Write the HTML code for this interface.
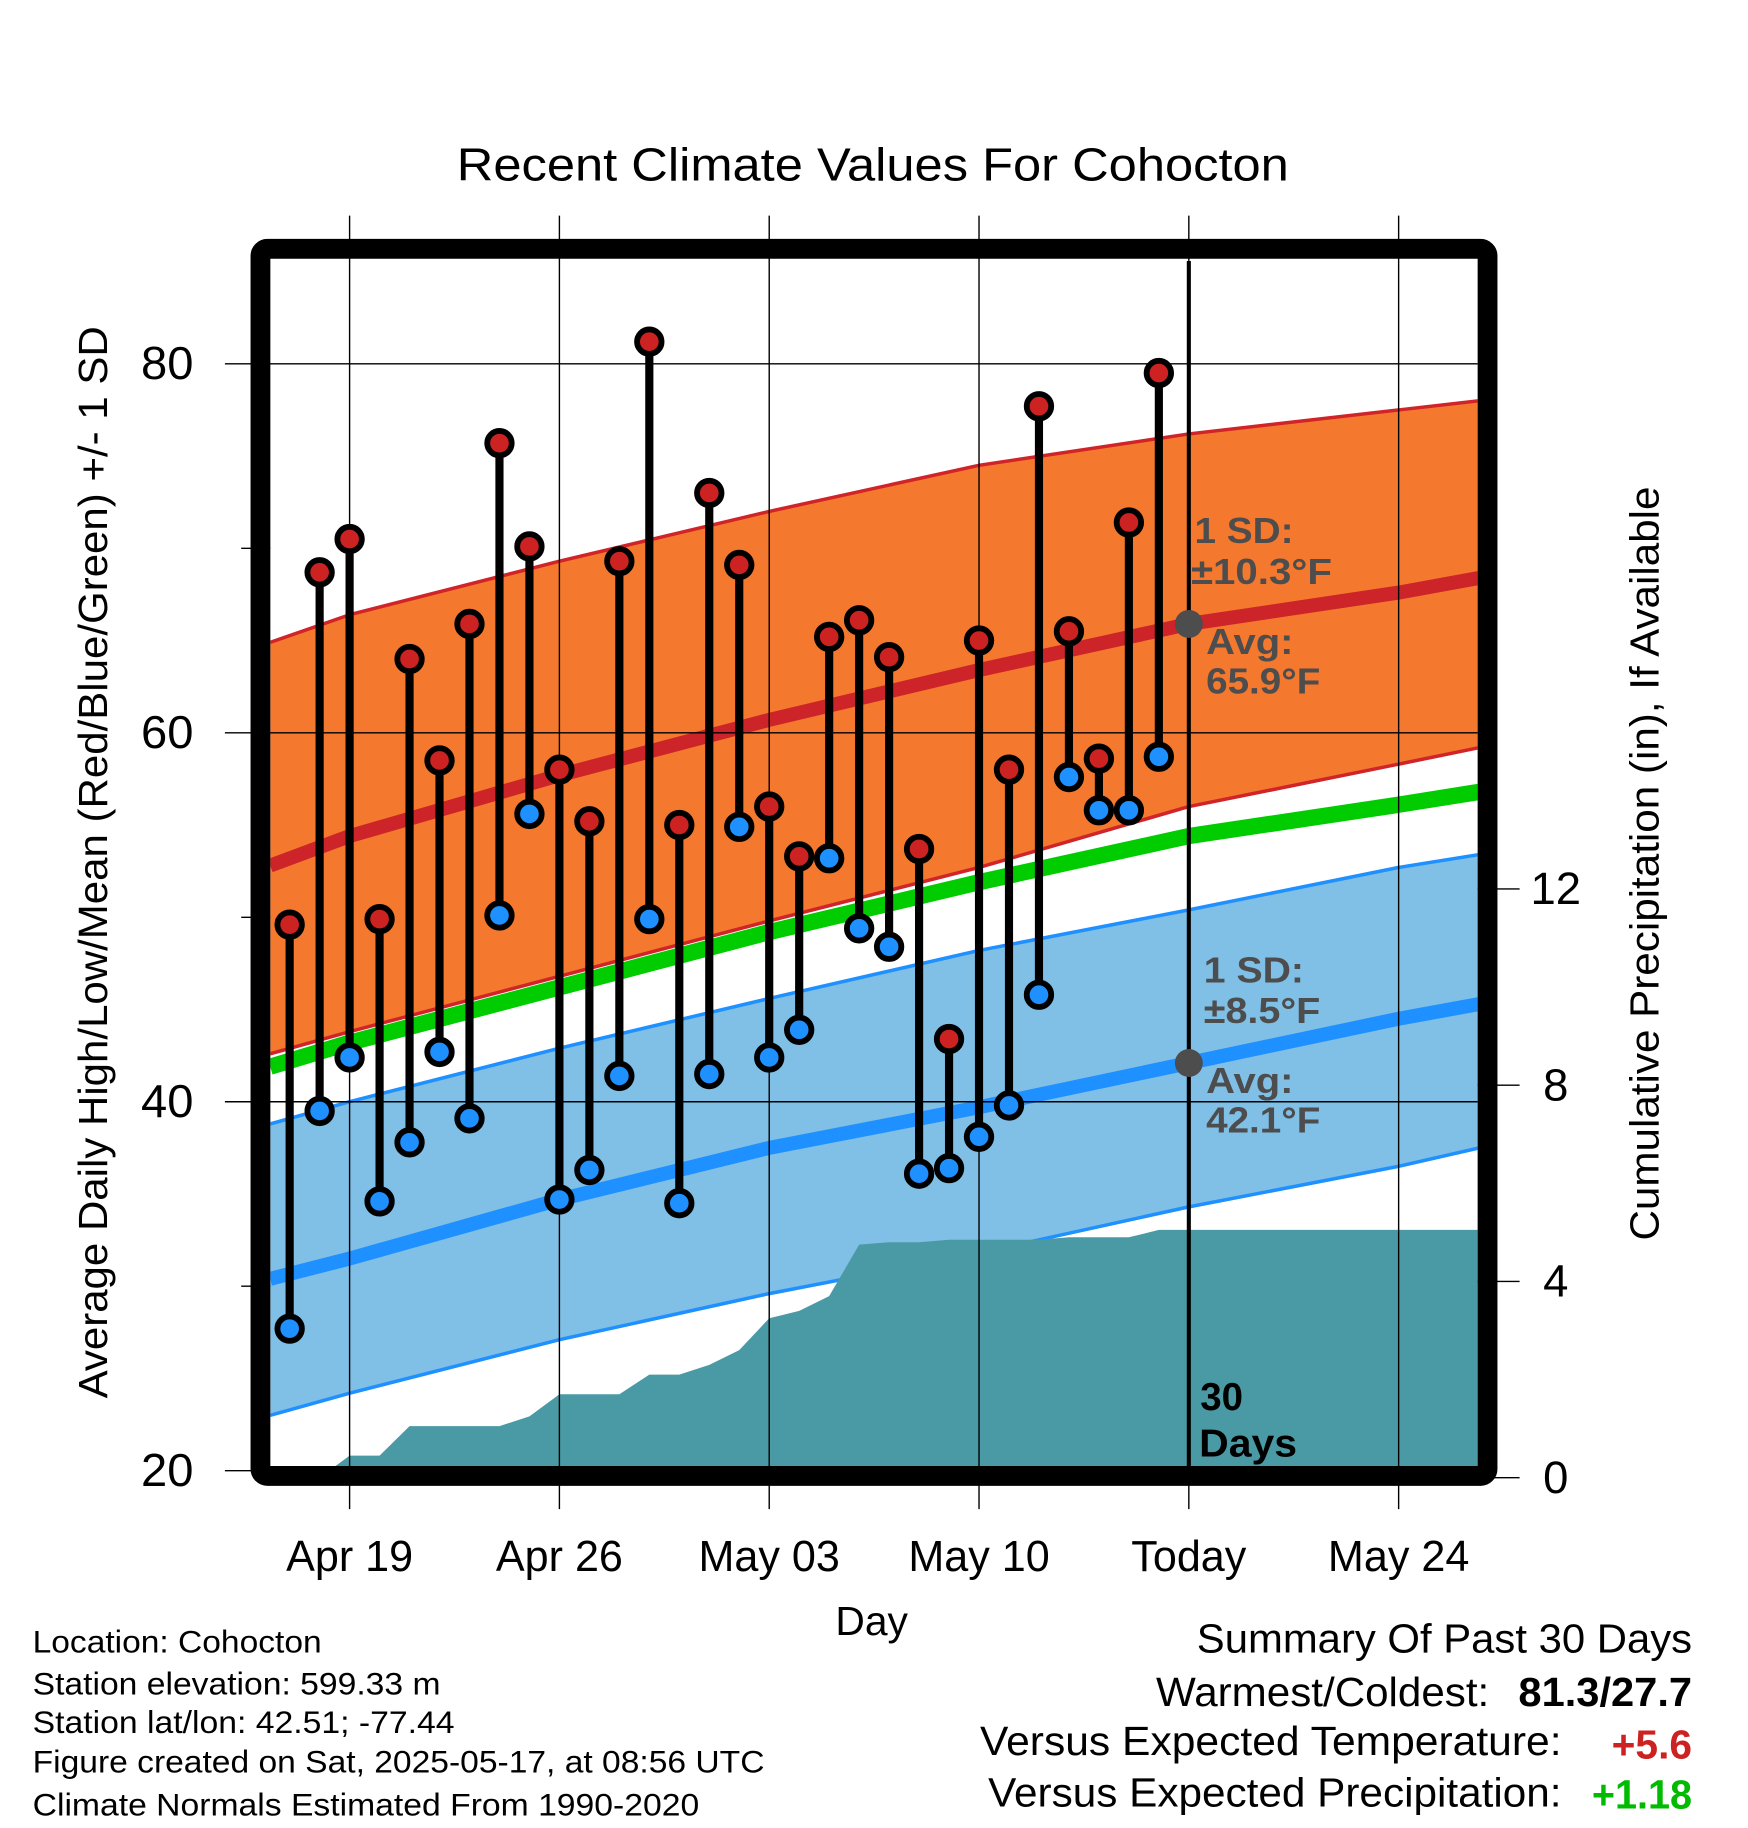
<!DOCTYPE html>
<html><head><meta charset="utf-8"><style>
html,body{margin:0;padding:0;background:#fff;}
svg{display:block;font-family:"Liberation Sans",Arial,sans-serif;}
</style></head><body>
<svg id="chart" width="1748" height="1828" viewBox="0 0 1500 1568.6" preserveAspectRatio="none" xmlns="http://www.w3.org/2000/svg">
<g id="bands"></g>
<g id="precip"></g>
<g id="grid"></g>
<g id="marks"></g>
<g id="labels"></g>
</svg>
<script>
// ---- data ----
const dayLabels = ["Apr 19","Apr 26","May 03","May 10","Today","May 24"];
const dayTicks = [0,7,14,21,28,35];
const highs = [49.6,68.7,70.5,49.9,64.0,58.5,65.9,75.7,70.1,58.0,55.2,69.3,81.2,55.0,73.0,69.1,56.0,53.3,65.2,66.1,64.1,53.7,43.4,65.0,58.0,77.7,65.5,58.6,71.4,79.5];
const lows  = [27.7,39.5,42.4,34.6,37.8,42.7,39.1,50.1,55.6,34.7,36.3,41.4,49.9,34.5,41.5,54.9,42.4,43.9,53.2,49.4,48.4,36.1,36.4,38.1,39.8,45.8,57.6,55.8,55.8,58.7];
const precipCum = [0,0,0.45,0.45,1.05,1.05,1.05,1.05,1.25,1.7,1.7,1.7,2.1,2.1,2.3,2.6,3.25,3.4,3.7,4.75,4.8,4.8,4.85,4.85,4.85,4.85,4.9,4.9,4.9,5.05];
const normDays = [-2.65,0,7,14,21,28,35,37.7];
const normHigh = [52.8,54.4,57.7,60.7,63.4,65.9,67.6,68.4];
const normHighUp = [64.9,66.4,69.3,72.0,74.5,76.2,77.5,78.0];
const normHighLo = [42.6,43.8,46.8,49.8,52.7,56.0,58.3,59.2];
const normMean = [41.9,43.2,46.2,49.2,51.9,54.4,56.1,56.8];
const normLow = [30.4,31.5,34.7,37.5,39.7,42.1,44.5,45.3];
const normLowUp = [38.8,40.0,42.9,45.6,48.2,50.4,52.7,53.4];
const normLowLo = [23.0,24.2,27.1,29.6,31.8,34.3,36.5,37.5];
const yTicks = [20,40,60,80];
const yMinor = [30,50,70];
const pTicks = [0,4,8,12];
const firstDay = -2;

// ---- axes ----
const X = d => 300 + d*25.72;
const Y = v => 1262 - (v-20)*15.83;
const P = p => 1268 - p*42.1;
const NS="http://www.w3.org/2000/svg";
function mk(tag, attrs, parent, text){const e=document.createElementNS(NS,tag);for(const k in attrs)e.setAttribute(k,attrs[k]);if(text!==undefined)e.textContent=text;parent.appendChild(e);return e;}
const bands=document.getElementById('bands'),precip=document.getElementById('precip'),grid=document.getElementById('grid'),marks=document.getElementById('marks'),labels=document.getElementById('labels');
const svg=document.getElementById('chart');
const defs=mk('defs',{},svg);const cp=mk('clipPath',{id:'pc'},defs);mk('rect',{x:232,y:224,width:1036,height:1035},cp);
bands.setAttribute('clip-path','url(#pc)');precip.setAttribute('clip-path','url(#pc)');
function pts(arr){return normDays.map((d,i)=>X(d)+','+Y(arr[i])).join(' ');}
function band(up,lo,fill,name){const p=normDays.map((d,i)=>X(d)+','+Y(up[i])).concat(normDays.slice().reverse().map((d,j)=>{const i=normDays.length-1-j;return X(d)+','+Y(lo[i]);}));
const e=mk('polygon',{points:p.join(' '),fill:fill},bands);

}
band(normHighUp,normHighLo,'#f4782e','high-sd-band');
band(normLowUp,normLowLo,'#80bfe6','low-sd-band');
function line(arr,color,w,name){const e=mk('polyline',{points:pts(arr),fill:'none',stroke:color,'stroke-width':w,'stroke-linejoin':'round'},bands);

}
line(normHighUp,'#d02428',3,'high-sd-upper');line(normHighLo,'#d02428',3,'high-sd-lower');
line(normLowUp,'#1e90ff',3,'low-sd-upper');line(normLowLo,'#1e90ff',3,'low-sd-lower');
line(normHigh,'#cc2428',12,'normal-high-line');line(normMean,'#00cc00',14,'normal-mean-line');line(normLow,'#1e90ff',12,'normal-low-line');
let pp=[X(firstDay+1)+','+1275];
precipCum.forEach((v,i)=>{pp.push(X(firstDay+i)+','+P(v));});
pp.push('1270,'+P(precipCum[precipCum.length-1]));pp.push('1270,1275');
const pe=mk('polygon',{points:pp.join(' '),fill:'#4a9aa5'},precip);


dayTicks.forEach((d,i)=>{mk('line',{x1:X(d),x2:X(d),y1:185,y2:1295,stroke:'#000','stroke-width':1.2},grid);
const t=mk('text',{x:X(d),y:1348,'font-size':37,'text-anchor':'middle'},labels,dayLabels[i]);

});
yTicks.forEach(v=>{mk('line',{x1:193,x2:1268,y1:Y(v),y2:Y(v),stroke:'#000','stroke-width':1.2},grid);
const t=mk('text',{x:166,y:Y(v)+13,'font-size':40,'text-anchor':'end',textLength:45,lengthAdjust:'spacingAndGlyphs'},labels,v);

});
yMinor.forEach(v=>mk('line',{x1:207,x2:232,y1:Y(v),y2:Y(v),stroke:'#000','stroke-width':1.2},grid));
pTicks.forEach(p=>{mk('line',{x1:1268,x2:1304,y1:P(p),y2:P(p),stroke:'#000','stroke-width':1.2},grid);
const t=mk('text',{x:1335,y:P(p)+13,'font-size':39,'text-anchor':'middle'},labels,p);

});
mk('line',{x1:X(28),x2:X(28),y1:224,y2:1262,stroke:'#000','stroke-width':3.5},grid);
const fr=mk('rect',{x:223.5,y:213.5,width:1053,height:1053,rx:6,fill:'none',stroke:'#000','stroke-width':17},grid);


highs.forEach((h,i)=>{const x=X(firstDay+i);const g=mk('g',{},marks);


mk('line',{x1:x,x2:x,y1:Y(h),y2:Y(lows[i]),stroke:'#000','stroke-width':7},g);
mk('circle',{cx:x,cy:Y(h),r:10.5,fill:'#cc2222',stroke:'#000','stroke-width':5},g);
mk('circle',{cx:x,cy:Y(lows[i]),r:10.5,fill:'#1e90ff',stroke:'#000','stroke-width':5},g);});
mk('circle',{cx:X(28),cy:Y(normHigh[5]),r:12,fill:'#4d4d4d'},marks);
mk('circle',{cx:X(28),cy:Y(normLow[5]),r:12,fill:'#4d4d4d'},marks);
</script>
<svg style="position:absolute;left:0;top:0" width="1748" height="1828" viewBox="0 0 1500 1568.6" preserveAspectRatio="none" xmlns="http://www.w3.org/2000/svg" font-family="Liberation Sans, Arial, sans-serif" lengthAdjust="spacingAndGlyphs">
<text x="392" y="155" font-size="40" textLength="714" lengthAdjust="spacingAndGlyphs">Recent Climate Values For Cohocton</text>
<text x="748" y="1403" font-size="35" text-anchor="middle">Day</text>
<text transform="translate(92,740) rotate(-90)" font-size="35" text-anchor="middle" textLength="920" lengthAdjust="spacingAndGlyphs">Average Daily High/Low/Mean (Red/Blue/Green) +/- 1 SD</text>
<text transform="translate(1423,741) rotate(-90)" font-size="35" text-anchor="middle" textLength="647" lengthAdjust="spacingAndGlyphs">Cumulative Precipitation (in), If Available</text>
<g font-weight="bold" font-size="31" fill="#4d4d4d">
<text x="1025" y="466" textLength="85" lengthAdjust="spacingAndGlyphs">1 SD:</text><text x="1022" y="501" textLength="121" lengthAdjust="spacingAndGlyphs">±10.3°F</text>
<text x="1035" y="561" textLength="75" lengthAdjust="spacingAndGlyphs">Avg:</text><text x="1035" y="595" textLength="98" lengthAdjust="spacingAndGlyphs">65.9°F</text>
<text x="1033" y="843" textLength="86" lengthAdjust="spacingAndGlyphs">1 SD:</text><text x="1033" y="878" textLength="100" lengthAdjust="spacingAndGlyphs">±8.5°F</text>
<text x="1035" y="938" textLength="75" lengthAdjust="spacingAndGlyphs">Avg:</text><text x="1035" y="972" textLength="98" lengthAdjust="spacingAndGlyphs">42.1°F</text>
</g>
<g font-weight="bold" font-size="33" fill="#000">
<text x="1030" y="1210">30</text><text x="1029" y="1250" textLength="84" lengthAdjust="spacingAndGlyphs">Days</text>
</g>
<g font-size="27">
<text x="28" y="1418" textLength="248" lengthAdjust="spacingAndGlyphs">Location: Cohocton</text>
<text x="28" y="1454" textLength="350" lengthAdjust="spacingAndGlyphs">Station elevation: 599.33 m</text>
<text x="28" y="1487" textLength="362" lengthAdjust="spacingAndGlyphs">Station lat/lon: 42.51; -77.44</text>
<text x="28" y="1521" textLength="628" lengthAdjust="spacingAndGlyphs">Figure created on Sat, 2025-05-17, at 08:56 UTC</text>
<text x="28" y="1558" textLength="572" lengthAdjust="spacingAndGlyphs">Climate Normals Estimated From 1990-2020</text>
</g>
<g font-size="35">
<text x="1027" y="1418" textLength="425" lengthAdjust="spacingAndGlyphs">Summary Of Past 30 Days</text>
<text x="992" y="1464" textLength="286" lengthAdjust="spacingAndGlyphs">Warmest/Coldest:</text>
<text x="1303" y="1464" font-weight="bold" textLength="149" lengthAdjust="spacingAndGlyphs">81.3/27.7</text>
<text x="841" y="1506" textLength="499" lengthAdjust="spacingAndGlyphs">Versus Expected Temperature:</text>
<text x="1383" y="1509" font-weight="bold" fill="#cc2222" textLength="69" lengthAdjust="spacingAndGlyphs">+5.6</text>
<text x="848" y="1550" textLength="492" lengthAdjust="spacingAndGlyphs">Versus Expected Precipitation:</text>
<text x="1366" y="1552" font-weight="bold" fill="#00bb00" textLength="86" lengthAdjust="spacingAndGlyphs">+1.18</text>
</g>
</svg>
</body></html>
